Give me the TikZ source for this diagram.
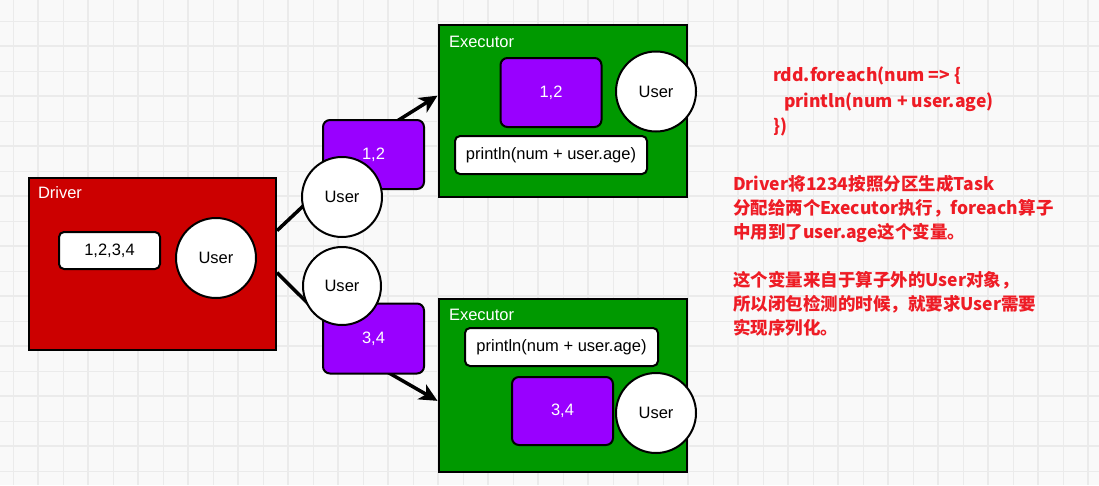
\documentclass[tikz,border=0pt]{standalone}
\usepackage{fontspec}
\setmainfont{Liberation Sans}
\newfontfamily\cjk{Noto Sans CJK SC}
\usetikzlibrary{arrows.meta}
\definecolor{drvred}{HTML}{CC0000}
\definecolor{exgreen}{HTML}{009900}
\definecolor{partpurple}{HTML}{9900FF}
\definecolor{notered}{RGB}{238,28,37}
\definecolor{gridbg}{HTML}{F9F9F9}
\definecolor{gridline}{HTML}{EBEBEB}

\begin{document}
\begin{tikzpicture}[x=1pt,y=-1pt,line width=2pt,
  font=\fontsize{16.5}{20}\selectfont,
  >={Stealth[length=18pt,width=17pt,inset=5pt]},
  container/.style={draw,inner sep=0pt,minimum width=248pt,minimum height=172pt},
  databox/.style={draw,fill=white,rounded corners=5pt,inner sep=0pt,minimum height=38pt},
  partbox/.style={draw,fill=partpurple,text=white,rounded corners=7pt,minimum width=101pt,minimum height=69pt,inner sep=0pt},
  usercircle/.style={draw,fill=white,circle,minimum size=80pt,inner sep=0pt},
  boxtitle/.style={text=white,anchor=west,inner sep=0pt},
  link/.style={->,line width=3.5pt},
  note/.style={text=notered,anchor=west,align=left,inner sep=0pt,font=\cjk\bfseries\fontsize{17.5}{24}\selectfont}]
  \useasboundingbox (0,0) rectangle (1099,485);

  % 背景网格
  \fill[gridbg] (0,0) rectangle (1099,485);
  \foreach \x in {13,38,...,1099} \draw[gridline,line width=1pt] (\x,0) -- (\x,485);
  \foreach \y in {21,46,...,485} \draw[gridline,line width=1pt] (0,\y) -- (1099,\y);
  \foreach \x in {38,88,...,1099} \draw[gridline,line width=2pt] (\x,0) -- (\x,485);
  \foreach \y in {46,96,...,485} \draw[gridline,line width=2pt] (0,\y) -- (1099,\y);

  % Driver
  \node[container,fill=drvred,minimum width=247pt] (driver) at (152.5,264) {};
  \node[boxtitle] (drivertitle) at (37,193) {Driver};
  \node[databox,minimum width=101pt,minimum height=37pt] (alldata) at (109.5,250.5) {1,2,3,4};
  \node[usercircle] (driveruser) at (216,258) {User};

  % 上面的Executor
  \node[container,fill=exgreen] (exec1) at (562.5,111) {};
  \node[boxtitle] (exec1title) at (448,42) {Executor};
  \node[partbox] (exec1part) at (551,92.5) {1,2};
  \node[usercircle] (exec1user) at (656,91.5) {User};
  \node[databox,minimum width=192pt] (exec1code) at (551,155) {println(num + user.age)};

  % 下面的Executor
  \node[container,fill=exgreen,minimum height=173pt] (exec2) at (562.5,385.5) {};
  \node[boxtitle] (exec2title) at (448,315) {Executor};
  \node[databox,minimum width=193pt] (exec2code) at (561.5,347) {println(num + user.age)};
  \node[partbox,minimum height=68pt] (exec2part) at (562.5,411) {3,4};
  \node[usercircle] (exec2user) at (656,413) {User};

  % 发送Task
  \coordinate (bendup) at (386,128);
  \coordinate (benddown) at (363,358);
  \draw[link] (driver.15) -- (bendup) -- (exec1.173);
  \draw[link] (driver.-4) -- (benddown) -- (exec2.187);

  \node[partbox] (part1) at (373.5,154.5) {1,2};
  \node[usercircle] (user1) at (342,197) {User};
  \node[partbox,minimum height=70pt] (part2) at (373.5,338.5) {3,4};
  \node[usercircle,minimum size=78pt] (user2) at (342,286) {User};

  % 说明文字
  \node[note] (code1) at (772,76) {rdd.foreach(num => \{};
  \node[note] (code2) at (783,102) {println(num + user.age)};
  \node[note] (code3) at (772,127) {\})};
  \node[note] (note1) at (732,209) {Driver将1234按照分区生成Task\\分配给两个Executor执行，foreach算子\\中用到了user.age这个变量。};
  \node[note] (note2) at (732,304) {这个变量来自于算子外的User对象，\\所以闭包检测的时候，就要求User需要\\实现序列化。};
\end{tikzpicture}
\end{document}
